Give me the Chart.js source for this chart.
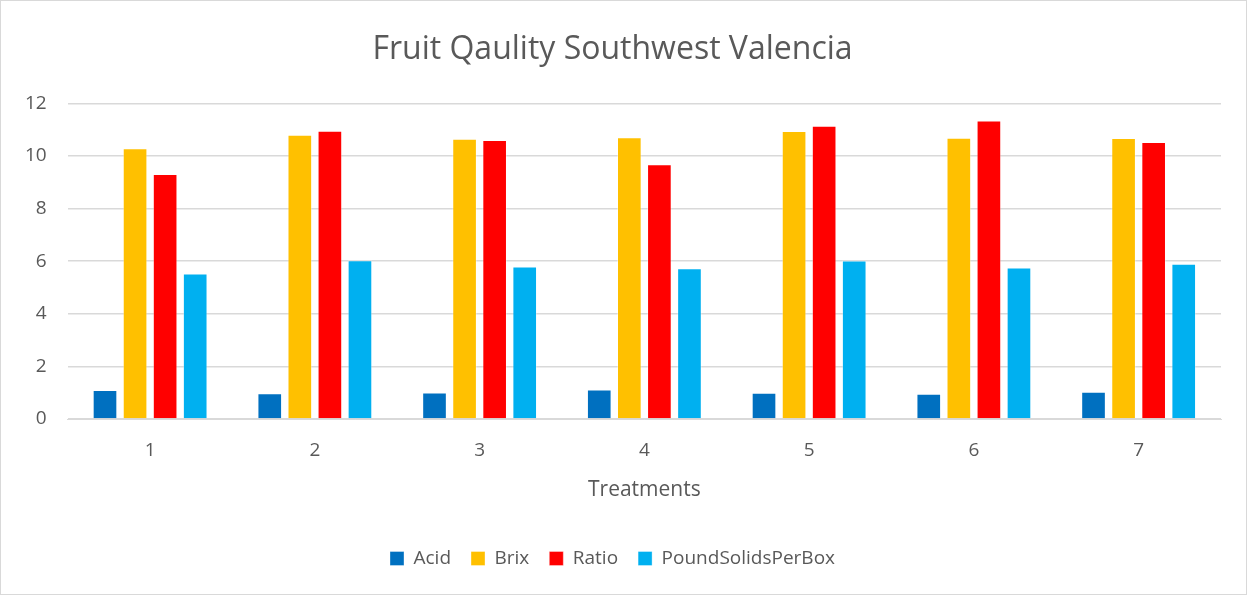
<!DOCTYPE html>
<html>
<head>
<meta charset="utf-8">
<script src="https://cdn.jsdelivr.net/npm/chart.js@4"></script>
<style>
  html, body { margin: 0; padding: 0; background: #fff; }
  #wrap { width: 1247px; height: 595px; position: relative; box-sizing: border-box; border: 1px solid #d9d9d9; }
</style>
</head>
<body>
<div id="wrap"><canvas id="fruitChart"></canvas></div>
<script>
// === DATA ===
const treatments = ["1", "2", "3", "4", "5", "6", "7"];
const acid = [1.10, 0.98, 1.01, 1.12, 1.00, 0.96, 1.04];
const brix = [10.29, 10.81, 10.66, 10.71, 10.95, 10.69, 10.68];
const ratio = [9.32, 10.96, 10.61, 9.69, 11.15, 11.35, 10.53];
const poundSolids = [5.53, 6.04, 5.80, 5.73, 6.03, 5.76, 5.90];

const textGray = "#595959";
const gridGray = "#d9d9d9";

function makeSet(label, data, color) {
    return {
        label: label,
        data: data,
        backgroundColor: color,
        borderColor: "rgba(255,255,255,0.35)",
        borderWidth: 1,
        categoryPercentage: 0.73,
        barPercentage: 0.82
    };
}

const ctx = document.getElementById("fruitChart").getContext("2d");
const chart = new Chart(ctx, {
    type: "bar",
    data: {
        labels: treatments,
        datasets: [
            makeSet("Acid", acid, "#0070c0"),
            makeSet("Brix", brix, "#ffc000"),
            makeSet("Ratio", ratio, "#ff0000"),
            makeSet("PoundSolidsPerBox", poundSolids, "#00b0f0")
        ]
    },
    options: {
        responsive: true,
        maintainAspectRatio: false,
        animation: false,
        layout: { padding: { left: 3, right: 25, top: 14, bottom: 16 } },
        plugins: {
            title: {
                display: true,
                text: "Fruit Qaulity Southwest Valencia",
                color: textGray,
                font: { family: "Open Sans", size: 32, weight: "normal" },
                padding: { top: 16, bottom: 34 }
            },
            legend: {
                position: "bottom",
                labels: {
                    color: textGray,
                    font: { family: "Open Sans", size: 19 },
                    boxWidth: 14,
                    boxHeight: 14,
                    padding: 20
                }
            },
            tooltip: { enabled: false }
        },
        scales: {
            x: {
                grid: { display: false },
                border: { color: gridGray, width: 1 },
                ticks: { color: textGray, font: { family: "Open Sans", size: 19 }, padding: 12 },
                title: {
                    display: true,
                    text: "Treatments",
                    color: textGray,
                    font: { family: "Open Sans", size: 21 },
                    padding: { top: 4, bottom: 26 }
                }
            },
            y: {
                min: 0,
                max: 12,
                ticks: { stepSize: 2, color: textGray, font: { family: "Open Sans", size: 19 }, padding: 21 },
                grid: { color: gridGray, lineWidth: 1.5, drawTicks: false },
                border: { display: false }
            }
        }
    }
});
</script>
</body>
</html>
